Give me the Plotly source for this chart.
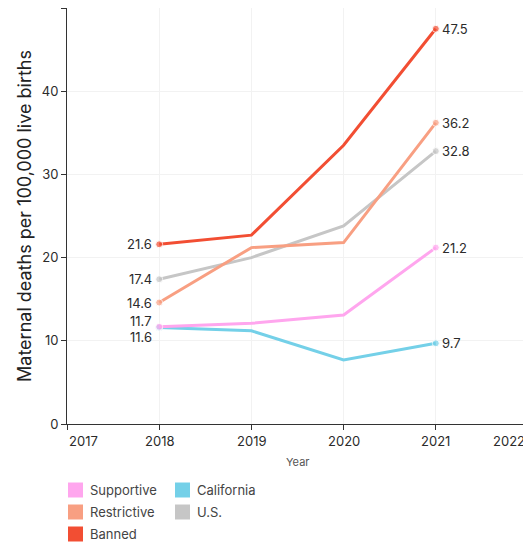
import plotly.graph_objects as go

years = [2018, 2019, 2020, 2021]
series_names = ["Supportive", "California", "Restrictive", "U.S.", "Banned"]
supportive = [11.7, 12.1, 13.1, 21.2]
california = [11.6, 11.2, 7.7, 9.7]
restrictive = [14.6, 21.2, 21.8, 36.2]
us = [17.4, 20.0, 23.8, 32.8]
banned = [21.6, 22.7, 33.5, 47.5]
colors = {"Supportive": "#ffa6ee", "California": "#74d0e8", "Restrictive": "#f89f82",
          "U.S.": "#c6c6c6", "Banned": "#f24e33"}
values = {"Supportive": supportive, "California": california, "Restrictive": restrictive,
          "U.S.": us, "Banned": banned}
x_ticks = [2017, 2018, 2019, 2020, 2021, 2022]
y_ticks = [0, 10, 20, 30, 40, 50]

FONT = "Inter, Roboto, sans-serif"
TXT = "#2b2b2b"

# page has an 8px body margin; figure sized to fit the window
W, H = 523, 538
PL, PR, PT, PB = 59, 3, 0, 122
PW, PH = W - PL - PR, H - PT - PB

fig = go.Figure()
draw_order = ["U.S.", "California", "Supportive", "Restrictive", "Banned"]
for name in draw_order:
    v = values[name]
    fig.add_trace(go.Scatter(
        x=years, y=v, mode="lines+markers", name=name,
        line=dict(color=colors[name], width=3),
        marker=dict(color=colors[name], size=[7, 0, 0, 7]),
        showlegend=False, hoverinfo="skip"))

# endpoint labels
start_shift = {"Supportive": 6, "California": -10}
for name in series_names:
    v = values[name]
    fig.add_annotation(x=years[0], y=v[0], text=f"{v[0]:.1f}", showarrow=False,
                       xanchor="right", yanchor="middle", xshift=-5,
                       yshift=start_shift.get(name, 0),
                       font=dict(family=FONT, size=13, color=TXT))
    fig.add_annotation(x=years[-1], y=v[-1], text=f"{v[-1]:.1f}", showarrow=False,
                       xanchor="left", yanchor="middle", xshift=4,
                       font=dict(family=FONT, size=13, color=TXT))

# x tick labels
for i, t in enumerate(x_ticks):
    anchor = "left" if i == 0 else ("right" if i == len(x_ticks) - 1 else "center")
    fig.add_annotation(x=t, y=0, xref="x", yref="paper", text=str(t), showarrow=False,
                       xanchor=anchor, yanchor="top", yshift=-7, xshift=(-1 if i == len(x_ticks) - 1 else 0),
                       font=dict(family=FONT, size=13, color=TXT))
fig.add_annotation(x=0.5, y=0, xref="paper", yref="paper", text="Year", showarrow=False,
                   xanchor="center", yanchor="top", yshift=-29,
                   font=dict(family=FONT, size=11, color="#555"))

# legend (manual swatches), positions in window pixels
legend_layout = [("Supportive", 0, 0), ("Restrictive", 0, 1), ("Banned", 0, 2),
                 ("California", 1, 0), ("U.S.", 1, 1)]
col_x = [60, 167]
row_y = [482, 504, 526]
def px(x):
    return (x - PL) / PW
def py(y):
    return (PT + PH - y) / PH
for name, c, r in legend_layout:
    x0 = col_x[c]
    yc = row_y[r]
    fig.add_shape(type="rect", xref="paper", yref="paper",
                  x0=px(x0), x1=px(x0 + 15),
                  y0=py(yc + 7.5), y1=py(yc - 7.5),
                  fillcolor=colors[name], line=dict(width=0))
    fig.add_annotation(x=px(x0 + 20), y=py(yc), xref="paper", yref="paper",
                       text=name, showarrow=False, xanchor="left", yanchor="middle",
                       font=dict(family=FONT, size=13, color="#444"))

fig.update_layout(
    width=W, height=H,
    margin=dict(l=PL, r=PR, t=PT, b=PB),
    plot_bgcolor="white", paper_bgcolor="white",
    showlegend=False,
    xaxis=dict(range=[2017, 2022], tickvals=x_ticks, showticklabels=False,
               showgrid=True, gridcolor="#f2f2f2", gridwidth=1,
               showline=True, linecolor="#333", linewidth=1,
               ticks="outside", ticklen=5, tickcolor="#333", zeroline=False, fixedrange=True),
    yaxis=dict(range=[0, 50], tickvals=y_ticks,
               showgrid=True, gridcolor="#f2f2f2", gridwidth=1,
               showline=True, linecolor="#333", linewidth=1,
               ticks="outside", ticklen=5, tickcolor="#333", zeroline=False,
               tickfont=dict(family=FONT, size=13, color=TXT),
               title=dict(text="Maternal deaths per 100,000 live births",
                          font=dict(family=FONT, size=18, color="#222"), standoff=5),
               fixedrange=True),
)

fig.write_html("out.html")
